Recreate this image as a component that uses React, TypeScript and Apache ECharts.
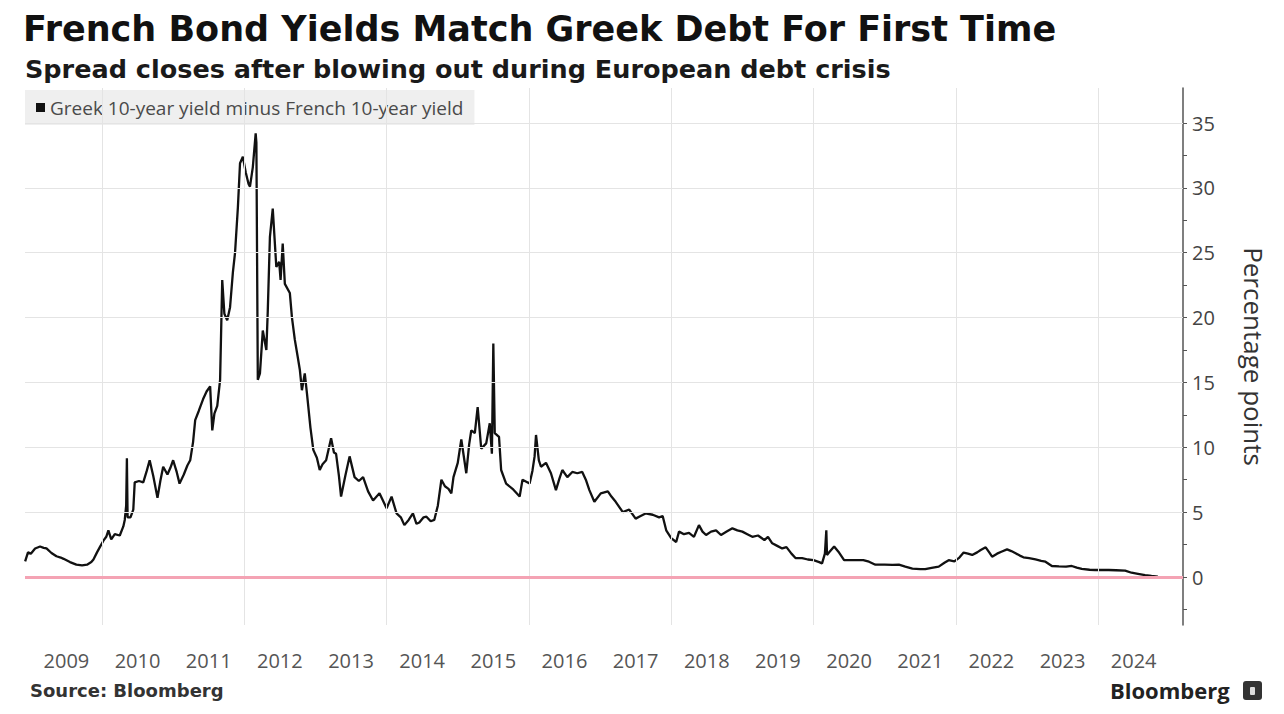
import React, { useEffect, useRef } from "react";
import * as echarts from "echarts";

// Decimal years (x) and spread in percentage points (y)
const timeline = [
  2008.92, 2008.96, 2009.0, 2009.06, 2009.13, 2009.18, 2009.22, 2009.29, 2009.36, 2009.42,
  2009.46, 2009.55, 2009.64, 2009.72, 2009.79, 2009.85, 2009.88, 2009.93, 2009.97, 2010.02,
  2010.06, 2010.09, 2010.13, 2010.18, 2010.25, 2010.3, 2010.32, 2010.34, 2010.35, 2010.36,
  2010.4, 2010.44, 2010.46, 2010.52, 2010.58, 2010.63, 2010.67, 2010.72, 2010.78, 2010.82,
  2010.86, 2010.92, 2010.96, 2011.0, 2011.05, 2011.09, 2011.15, 2011.2, 2011.24, 2011.28,
  2011.31, 2011.36, 2011.42, 2011.47, 2011.52, 2011.55, 2011.58, 2011.62, 2011.66, 2011.69,
  2011.72, 2011.76, 2011.8, 2011.84, 2011.87, 2011.91, 2011.94, 2011.98, 2012.02, 2012.06,
  2012.08, 2012.12, 2012.16, 2012.17, 2012.19, 2012.22, 2012.26, 2012.31, 2012.33, 2012.36,
  2012.4, 2012.45, 2012.49, 2012.51, 2012.54, 2012.57, 2012.64, 2012.67, 2012.71, 2012.75,
  2012.78, 2012.81, 2012.85, 2012.88, 2012.93, 2012.97, 2013.02, 2013.06, 2013.1, 2013.15,
  2013.22, 2013.26, 2013.29, 2013.33, 2013.36, 2013.42, 2013.48, 2013.55, 2013.61, 2013.67,
  2013.74, 2013.81, 2013.9, 2014.0, 2014.07, 2014.14, 2014.2, 2014.25, 2014.31, 2014.37,
  2014.42, 2014.46, 2014.52, 2014.56, 2014.62, 2014.67, 2014.72, 2014.77, 2014.82, 2014.87,
  2014.91, 2014.94, 2015.0, 2015.05, 2015.12, 2015.16, 2015.19, 2015.24, 2015.28, 2015.33,
  2015.4, 2015.45, 2015.48, 2015.5, 2015.52, 2015.58, 2015.61, 2015.68, 2015.77, 2015.87,
  2015.91, 2016.01, 2016.05, 2016.08, 2016.1, 2016.14, 2016.17, 2016.24, 2016.31, 2016.38,
  2016.43, 2016.47, 2016.54, 2016.61, 2016.68, 2016.75, 2016.8, 2016.85, 2016.92, 2017.01,
  2017.11, 2017.16, 2017.22, 2017.32, 2017.41, 2017.5, 2017.57, 2017.64, 2017.74, 2017.83,
  2017.88, 2017.93, 2018.0, 2018.07, 2018.11, 2018.18, 2018.25, 2018.32, 2018.39, 2018.44,
  2018.49, 2018.56, 2018.63, 2018.7, 2018.78, 2018.86, 2018.93, 2019.0, 2019.07, 2019.14,
  2019.22, 2019.31, 2019.36, 2019.42, 2019.49, 2019.56, 2019.62, 2019.69, 2019.75, 2019.84,
  2019.92, 2020.0, 2020.08, 2020.12, 2020.16, 2020.18, 2020.19, 2020.22, 2020.29, 2020.35,
  2020.43, 2020.52, 2020.59, 2020.7, 2020.78, 2020.87, 2021.0, 2021.11, 2021.2, 2021.29,
  2021.39, 2021.5, 2021.57, 2021.66, 2021.76, 2021.84, 2021.9, 2021.98, 2022.05, 2022.11,
  2022.17, 2022.23, 2022.3, 2022.35, 2022.42, 2022.47, 2022.51, 2022.58, 2022.64, 2022.72,
  2022.78, 2022.84, 2022.9, 2022.95, 2023.03, 2023.12, 2023.2, 2023.26, 2023.35, 2023.45,
  2023.55, 2023.63, 2023.7, 2023.77, 2023.88, 2023.96, 2024.07, 2024.15, 2024.25, 2024.38,
  2024.47, 2024.56, 2024.66, 2024.75, 2024.84,
];

const spread = [
  1.2, 1.9, 1.8, 2.2, 2.35, 2.25, 2.2, 1.85, 1.6, 1.5,
  1.4, 1.15, 0.95, 0.9, 0.95, 1.15, 1.35, 1.9, 2.3, 2.8,
  3.1, 3.6, 2.9, 3.3, 3.2, 3.9, 4.4, 5.5, 9.15, 4.6,
  4.6, 5.2, 7.3, 7.4, 7.3, 8.2, 9.0, 7.8, 6.1, 7.4,
  8.5, 7.9, 8.4, 9.0, 8.1, 7.2, 7.9, 8.6, 9.0, 10.4,
  12.1, 12.8, 13.7, 14.3, 14.7, 11.3, 12.6, 13.2, 15.2, 22.9,
  20.3, 19.8, 20.8, 23.5, 25.0, 28.5, 31.9, 32.4, 31.2, 30.3,
  30.1, 31.6, 34.2, 33.5, 15.2, 15.7, 19.0, 17.5, 20.5, 26.2,
  28.4, 23.9, 24.3, 22.9, 25.7, 22.6, 21.9, 20.0, 18.3, 17.0,
  16.0, 14.4, 15.7, 14.2, 11.5, 9.8, 9.2, 8.25, 8.7, 9.0,
  10.7, 9.6, 9.5, 7.8, 6.2, 7.8, 9.3, 7.7, 7.4, 7.7,
  6.6, 5.9, 6.45, 5.3, 6.2, 4.9, 4.6, 4.0, 4.4, 4.9,
  4.1, 4.2, 4.6, 4.65, 4.3, 4.4, 5.5, 7.5, 7.0, 6.8,
  6.45, 7.7, 8.8, 10.6, 8.0, 10.2, 11.3, 11.1, 13.1, 9.9,
  10.3, 11.85, 9.5, 18.0, 11.1, 10.8, 8.25, 7.2, 6.8, 6.2,
  7.5, 7.2, 8.2, 9.3, 10.95, 9.0, 8.5, 8.8, 8.0, 6.7,
  7.6, 8.25, 7.7, 8.1, 8.0, 8.1, 7.5, 6.7, 5.8, 6.45,
  6.6, 6.2, 5.8, 5.0, 5.2, 4.5, 4.7, 4.9, 4.8, 4.6,
  4.7, 3.6, 3.0, 2.7, 3.5, 3.3, 3.4, 3.1, 4.0, 3.5,
  3.24, 3.5, 3.6, 3.24, 3.5, 3.75, 3.6, 3.5, 3.3, 3.1,
  3.2, 2.85, 3.1, 2.6, 2.4, 2.2, 2.3, 1.8, 1.45, 1.45,
  1.35, 1.3, 1.15, 1.05, 1.8, 3.6, 1.7, 1.9, 2.35, 1.95,
  1.3, 1.3, 1.3, 1.3, 1.18, 0.95, 0.95, 0.93, 0.95, 0.8,
  0.65, 0.6, 0.6, 0.7, 0.8, 1.1, 1.3, 1.2, 1.5, 1.88,
  1.8, 1.7, 1.9, 2.08, 2.29, 1.9, 1.57, 1.8, 1.95, 2.13,
  2.0, 1.83, 1.65, 1.52, 1.45, 1.36, 1.25, 1.18, 0.85, 0.82,
  0.8, 0.85, 0.72, 0.62, 0.56, 0.54, 0.55, 0.54, 0.52, 0.49,
  0.33, 0.25, 0.15, 0.08, 0.03,
];

const yearLabels = [2009, 2010, 2011, 2012, 2013, 2014, 2015, 2016, 2017, 2018, 2019, 2020, 2021, 2022, 2023, 2024];
const verticalGridYears = [2010, 2012, 2014, 2016, 2018, 2020, 2022, 2024];
const yTickLabels = [0, 5, 10, 15, 20, 25, 30, 35];
const yMinorTicks = [-2.5, 0, 2.5, 5, 7.5, 10, 12.5, 15, 17.5, 20, 22.5, 25, 27.5, 30, 32.5, 35];

const TITLE = "French Bond Yields Match Greek Debt For First Time";
const SUBTITLE = "Spread closes after blowing out during European debt crisis";
const SERIES_NAME = "Greek 10-year yield minus French 10-year yield";

export default function App() {
  const ref = useRef<HTMLDivElement>(null);

  useEffect(() => {
    if (!ref.current) return;
    const chart = echarts.init(ref.current, null, { renderer: "svg" });
    const seriesData = timeline.map((t, i) => [t, spread[i]]);
    const gridColor = "#e4e4e4";

    chart.setOption({
      animation: false,
      backgroundColor: "#ffffff",
      title: [
        {
          text: TITLE,
          left: 23,
          top: 11,
          padding: 0,
          textStyle: { fontFamily: "DejaVu Sans", fontWeight: "bold", fontSize: 35, color: "#111" },
        },
        {
          text: SUBTITLE,
          left: 25,
          top: 56,
          padding: 0,
          textStyle: { fontFamily: "DejaVu Sans", fontWeight: "bold", fontSize: 25.5, color: "#1a1a1a" },
        },
        {
          text: "Source: Bloomberg",
          left: 30,
          top: 681,
          padding: 0,
          textStyle: { fontFamily: "DejaVu Sans", fontWeight: "bold", fontSize: 18, color: "#333" },
        },
        {
          text: "Bloomberg",
          left: 1110,
          top: 679,
          padding: 0,
          textStyle: { fontFamily: "Open Sans", fontWeight: "bold", fontSize: 22, color: "#222" },
        },
      ],
      graphic: [
        { type: "rect", shape: { x: 1243, y: 681, width: 19, height: 19, r: 3 }, style: { fill: "#333" } },
        { type: "rect", shape: { x: 1250, y: 687, width: 5, height: 8, r: 1 }, style: { fill: "#ddd" } },
      ],
      legend: {
        data: [SERIES_NAME],
        left: 25,
        top: 90,
        padding: [8, 11, 8, 11],
        backgroundColor: "#efefef",
        icon: "rect",
        itemWidth: 9,
        itemHeight: 9,
        textStyle: { fontFamily: "Open Sans", fontSize: 19, color: "#4a4a4a" },
      },
      grid: { left: 25, right: 101, top: 88, bottom: 89 },
      xAxis: {
        type: "value",
        min: 2008.918,
        max: 2025.193,
        axisLine: { show: false },
        axisTick: { show: false },
        splitLine: { show: false },
        axisLabel: {
          customValues: yearLabels.map((y) => y + 0.5),
          formatter: (v: number) => String(Math.floor(v)),
          margin: 25,
          fontFamily: "Open Sans",
          fontSize: 20,
          color: "#555",
        },
      },
      yAxis: {
        type: "value",
        position: "right",
        min: -3.7,
        max: 37.7,
        axisLine: { show: true, lineStyle: { color: "#555", width: 1.5 } },
        axisTick: { show: true, customValues: yMinorTicks, length: 4, lineStyle: { color: "#555" } },
        splitLine: { show: false },
        axisLabel: {
          customValues: yTickLabels,
          margin: 9,
          fontFamily: "Open Sans",
          fontSize: 20,
          color: "#444",
        },
        name: "Percentage points",
        nameLocation: "middle",
        nameRotate: -90,
        nameGap: 58,
        nameTextStyle: { fontFamily: "Open Sans", fontSize: 26, color: "#333" },
      },
      series: [
        {
          name: "grid",
          type: "line",
          data: [],
          z: 1,
          silent: true,
          markLine: {
            silent: true,
            symbol: "none",
            label: { show: false },
            lineStyle: { color: gridColor, width: 1, type: "solid" },
            data: [
              ...verticalGridYears.map((y) => ({ xAxis: y })),
              ...yTickLabels.filter((v) => v > 0).map((v) => ({ yAxis: v })),
              { yAxis: 0, lineStyle: { color: "#f4a3b4", width: 3, type: "solid" } },
            ],
          },
        },
        {
          name: SERIES_NAME,
          type: "line",
          data: seriesData,
          z: 3,
          showSymbol: false,
          symbol: "none",
          lineStyle: { color: "#111", width: 2.3 },
          itemStyle: { color: "#111" },
        },
      ],
    });

    return () => chart.dispose();
  }, []);

  return (
    <div
      ref={ref}
      style={{ position: "fixed", left: 0, top: 0, width: 1284, height: 714, background: "#fff" }}
    />
  );
}
